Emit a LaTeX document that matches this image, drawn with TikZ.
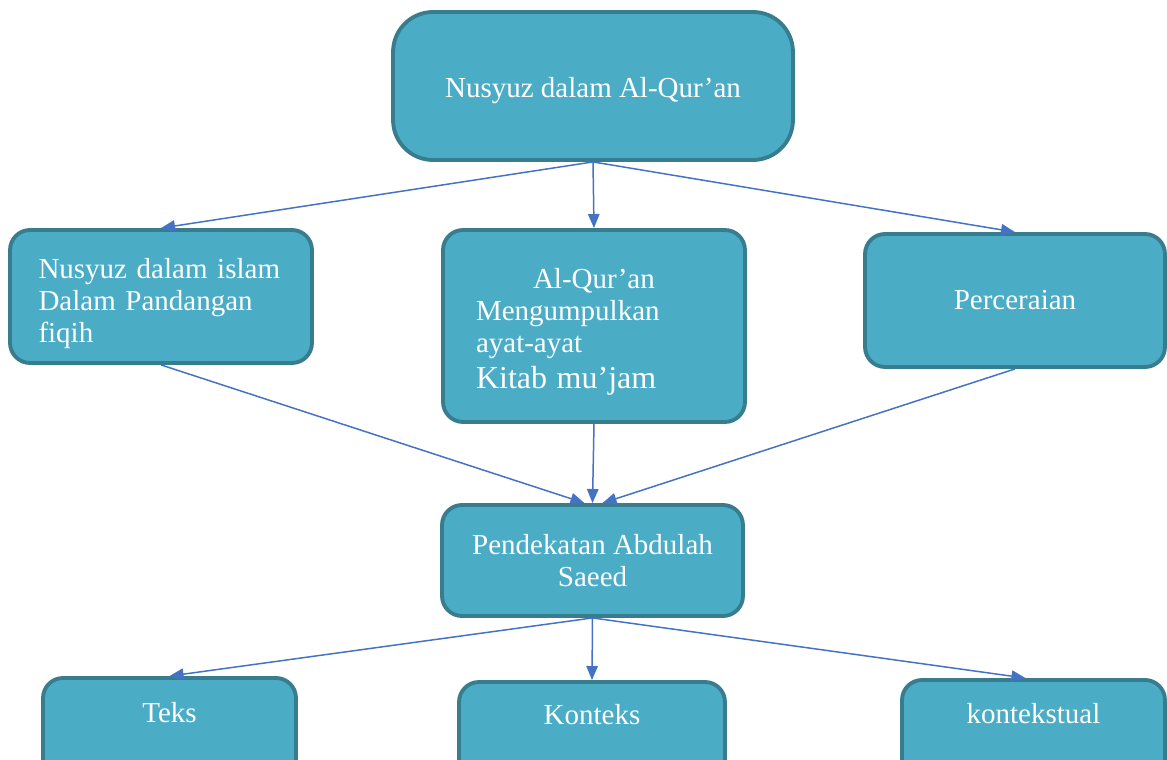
\documentclass[tikz,border=0pt]{standalone}
\usepackage{fontspec}
\setmainfont{Liberation Serif}
\usetikzlibrary{arrows.meta}
\definecolor{boxfill}{RGB}{75,172,198}
\definecolor{boxline}{RGB}{56,125,142}
\definecolor{arrowblue}{RGB}{68,114,196}
\hyphenpenalty=10000
\begin{document}
\begin{tikzpicture}[
	x=0.02cm, y=-0.02cm,
	box/.style={ rectangle, rounded corners=0.4cm, draw=boxline, fill=boxfill, line width=2.2pt, text=white, font=\fontsize{16.5}{18.3}\selectfont, inner sep=0pt },
	topbox/.style={ box, rounded corners=0.8cm, minimum width=8cm, minimum height=2.96cm },
	midbox/.style={ box, minimum width=6.04cm, minimum height=2.66cm },
	lowbox/.style={ box, minimum height=2.24cm, text height=0.4cm, text depth=0.88cm },
	link/.style={ draw=arrowblue, line width=0.85pt, -{Triangle[length=8pt,width=6.5pt]} }
]
\useasboundingbox (0,0) rectangle (1167,760);

% top
\node[topbox, text height=0.6cm] at (593,86) (nTop) {Nusyuz dalam Al-Qur'an};

% second row
\node[midbox, text width=4.9cm, text height=0.67cm, align=left] at (161,296.5) (nFiqih) {Nusyuz dalam islam\\Dalam Pandangan\\fiqih};
\node[midbox, minimum height=3.84cm, text width=4.72cm, text height=0.63cm, align=left] at (594,326) (nMujam) {\hspace*{1.14cm}Al-Qur'an\\Mengumpulkan\\ayat-ayat\\[2pt]{\fontsize{18.2}{20}\selectfont Kitab mu'jam}};
\node[midbox, minimum width=6cm] at (1015,300.5) (nCerai) {Perceraian};

% approach
\node[box, minimum width=6.02cm, minimum height=2.22cm, align=center] at (592.5,560.5) (nSaeed) {Pendekatan Abdulah\\Saeed};

% bottom row
\node[lowbox, minimum width=5.06cm] at (169.5,734) (nTeks) {Teks};
\node[lowbox, minimum width=5.32cm, minimum height=2.16cm] at (592,736) (nKonteks) {Konteks};
\node[lowbox, minimum width=5.26cm, minimum height=2.2cm] at (1033.5,735) (nKontekstual) {kontekstual};

\draw[link] (nTop.south) to (nFiqih.north);
\draw[link] (nTop.south) to (nMujam.north);
\draw[link] (nTop.south) to (nCerai.north);

\draw[link] (nFiqih.south) to ([xshift=-0.16cm]nSaeed.north);
\draw[link] (nMujam.south) to (nSaeed.north);
\draw[link] (nCerai.south) to ([xshift=0.2cm]nSaeed.north);

\draw[link] (nSaeed.south) to (nTeks.north);
\draw[link] (nSaeed.south) to (nKonteks.north);
\draw[link] (nSaeed.south) to ([xshift=-0.16cm]nKontekstual.north);

\end{tikzpicture}
\end{document}
